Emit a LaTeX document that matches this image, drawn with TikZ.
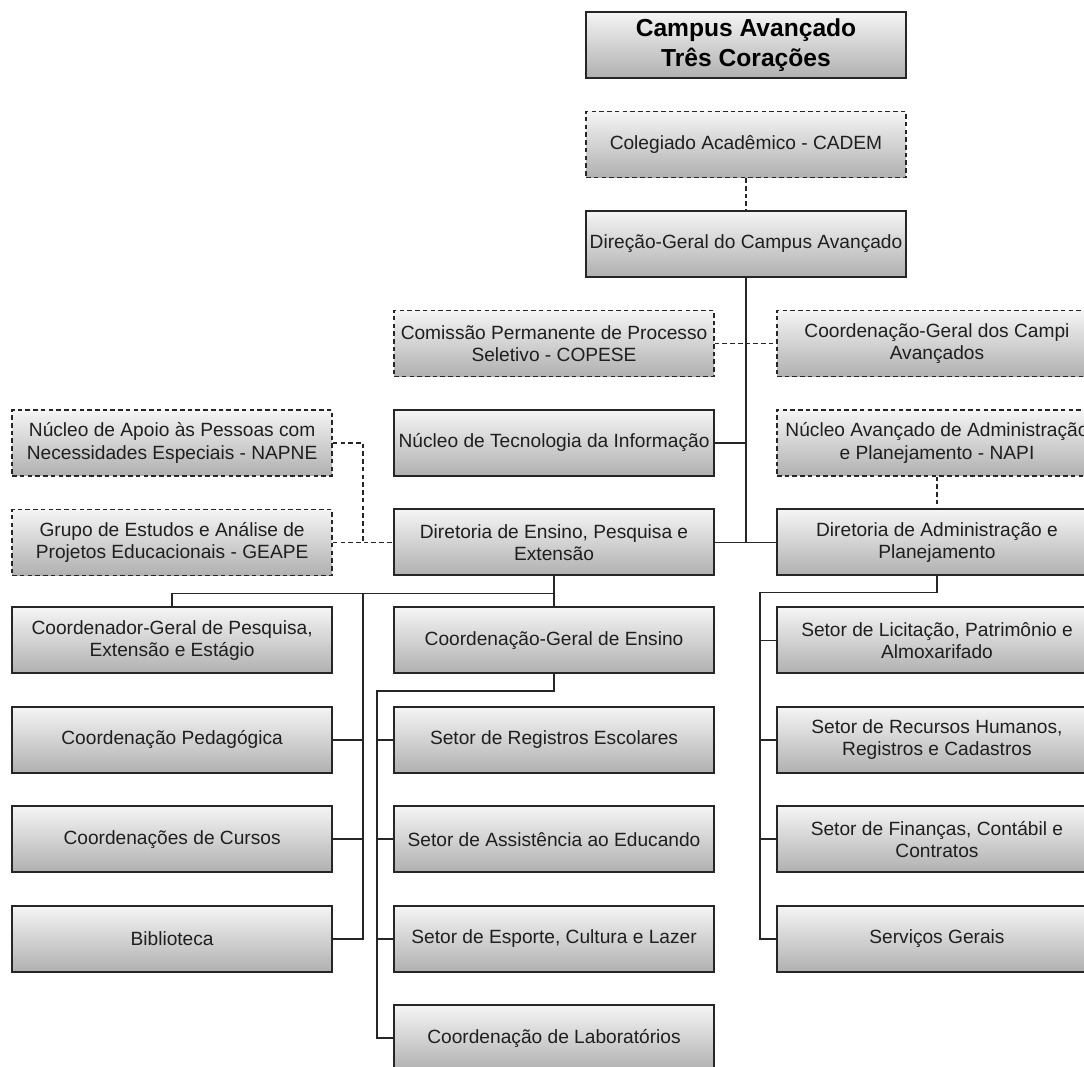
\documentclass[tikz,border=0pt]{standalone}
\usepackage{fontspec}
\setmainfont{Liberation Sans}
\usetikzlibrary{positioning,calc}
\tikzset{
block/.style = {draw=black!85, line width=1.1pt, rectangle, top color=gray!8, bottom color=gray!62, minimum height=1.32cm, minimum width=6.4cm, inner sep=1pt, align=center, text=black!88, font=\fontsize{10.9}{12.6}\selectfont},
dblock/.style = {block, line width=0.85pt, dash pattern=on 2.6pt off 1.8pt},
head/.style = {block, line width=1.2pt, text=black, font=\fontsize{14}{17}\selectfont\bfseries},
line/.style = {draw=black!85, line width=1pt},
dline/.style = {line, line width=0.85pt, dash pattern=on 2.6pt off 1.8pt},
tmp/.style = {coordinate}
}
\begin{document}
\begin{tikzpicture}[x=0.02cm, y=-0.02cm, node distance=1.99cm]
    \useasboundingbox (0,0) rectangle (1084,1066);
    \fill [white] (0,0) rectangle (1084,1066);
    \clip (0,0) rectangle (1084,1066);
    \node [head] (campus) at (746,45) {Campus Avançado\\Três Corações};
    \node [dblock, below of=campus] (cadem) {Colegiado Acadêmico - CADEM};
    \node [block, below of=cadem] (dg) {Direção-Geral do Campus Avançado};
    \node [dblock, below of=dg, xshift=-3.84cm] (copese) {Comissão Permanente de Processo\\Seletivo - COPESE};
    \node [dblock, below of=dg, xshift=3.82cm] (campi) {Coordenação-Geral dos Campi\\Avançados};
    \node [block, below of=copese] (nti) {Núcleo de Tecnologia da Informação};
    \node [dblock, below of=campi] (napi) {Núcleo Avançado de Administração\\e Planejamento - NAPI};
    \node [block, below of=nti] (dep) {Diretoria de Ensino, Pesquisa e\\Extensão};
    \node [block, below of=napi] (dap) {Diretoria de Administração e\\Planejamento};
    \node [dblock, left of=nti, node distance=7.64cm] (napne) {Núcleo de Apoio às Pessoas com\\Necessidades Especiais - NAPNE};
    \node [dblock, left of=dep, node distance=7.64cm] (geape) {Grupo de Estudos e Análise de\\Projetos Educacionais - GEAPE};
    \node [block, below of=dep, node distance=1.96cm] (cge) {Coordenação-Geral de Ensino};
    \node [block, left of=cge, node distance=7.64cm] (cgp) {Coordenador-Geral de Pesquisa,\\Extensão e Estágio};
    \node [block, right of=cge, node distance=7.66cm] (slpa) {Setor de Licitação, Patrimônio e\\Almoxarifado};
    \node [block, below of=cgp] (cped) {Coordenação Pedagógica};
    \node [block, below of=cped] (ccur) {Coordenações de Cursos};
    \node [block, below of=ccur] (bib) {Biblioteca};
    \node [block, below of=cge] (sre) {Setor de Registros Escolares};
    \node [block, below of=sre] (sae) {Setor de Assistência ao Educando};
    \node [block, below of=sae] (sec) {Setor de Esporte, Cultura e Lazer};
    \node [block, below of=sec] (clab) {Coordenação de Laboratórios};
    \node [block, below of=slpa] (srh) {Setor de Recursos Humanos,\\Registros e Cadastros};
    \node [block, below of=srh] (sfc) {Setor de Finanças, Contábil e\\Contratos};
    \node [block, below of=sfc] (sg) {Serviços Gerais};
    \coordinate [tmp] (ljoin) at ($(geape.east)!0.5!(dep.west)$);
    \coordinate [tmp] (ejoin) at ($(sre.west)+(-16,0)$);
    \coordinate [tmp] (ajoin) at ($(slpa.west)+(-16,0)$);
    \draw [dline] (cadem) -- (dg);
    \draw [dline] (copese) -- (campi);
    \draw [line] (dg.south) -- (dg.south |- dep.east);
    \draw [line] (nti.east) -- (nti.east -| dg.south);
    \draw [line] (dep) -- (dap);
    \draw [dline] (napi) -- (dap);
    \draw [dline] (geape) -- (dep);
    \draw [dline] (napne.east) -| (ljoin);
    \draw [line] (dep.south) -- ++(0,17) coordinate (dbus) -| (cgp.north);
    \draw [line] (dbus) -- (cge.north);
    \draw [line] (ljoin |- dbus) |- (bib.east);
    \foreach \nd in {cped,ccur}
        \draw [line] (\nd.east) -- (\nd.east -| ljoin);
    \draw [line] (cge.south) -- ++(0,17) -| (ejoin |- clab.west) -- (clab.west);
    \foreach \nd in {sre,sae,sec}
        \draw [line] (\nd.west) -- (\nd.west -| ejoin);
    \draw [line] (dap.south) -- ++(0,16) -| (ajoin |- sg.west) -- (sg.west);
    \foreach \nd in {slpa,srh,sfc}
        \draw [line] (\nd.west) -- (\nd.west -| ajoin);
\end{tikzpicture}
\end{document}
